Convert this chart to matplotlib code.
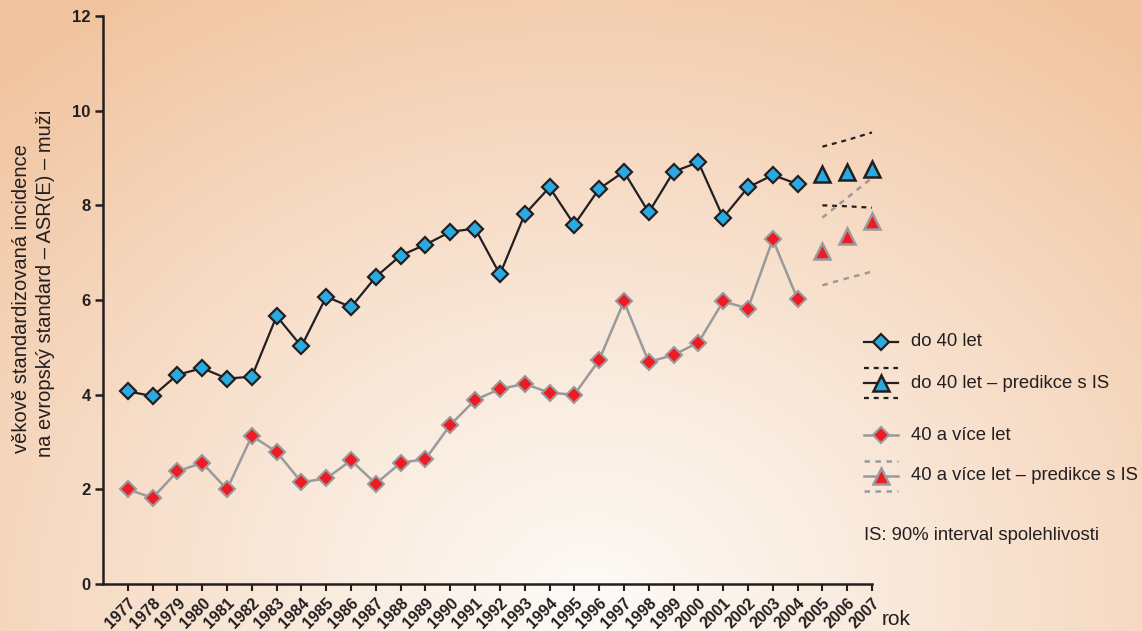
import numpy as np
import matplotlib
matplotlib.use("Agg")
from matplotlib import pyplot as plt

plt.rcParams['font.family'] = ['Liberation Sans', 'DejaVu Sans']

# data
years = list(range(1977, 2005))
do40 = [4.07, 3.97, 4.42, 4.56, 4.34, 4.38, 5.66, 5.02, 6.07, 5.85, 6.49, 6.94,
        7.17, 7.44, 7.51, 6.54, 7.81, 8.38, 7.59, 8.35, 8.71, 7.85, 8.71, 8.91,
        7.74, 8.38, 8.64, 8.45]
nad40 = [2.00, 1.82, 2.38, 2.56, 2.00, 3.13, 2.79, 2.15, 2.23, 2.61, 2.12, 2.56,
         2.64, 3.36, 3.89, 4.12, 4.23, 4.04, 4.00, 4.73, 5.97, 4.69, 4.84, 5.10,
         5.97, 5.82, 7.28, 6.02]

pred_years = [2005, 2006, 2007]
do40_pred = [8.67, 8.70, 8.77]
do40_hi = [9.24, 9.38, 9.54]
do40_lo = [8.00, 7.98, 7.95]
nad40_pred = [7.03, 7.36, 7.67]
nad40_hi = [7.74, 8.16, 8.58]
nad40_lo = [6.31, 6.46, 6.60]

tick_years = list(range(1977, 2008))
yticks = [0, 2, 4, 6, 8, 10, 12]

blue = '#29abe2'
red = '#ed1c24'
grey = '#9a9a9a'
dark = '#231f20'

W, H = 1142, 631
fig = plt.figure(figsize=(W / 100, H / 100), dpi=100)

# background radial gradient
bg = fig.add_axes([0, 0, 1, 1], zorder=-10)
yy, xx = np.mgrid[0:H, 0:W]
d = np.sqrt((xx - 590.0) ** 2 + ((yy - 600.0) * 1.2) ** 2) / 880.0
t = np.clip(d, 0, 1) ** 1.1
c0 = np.array([253, 250, 246]) / 255.0
c1 = np.array([241, 195, 158]) / 255.0
img = c0[None, None, :] * (1 - t[..., None]) + c1[None, None, :] * t[..., None]
bg.imshow(img, aspect='auto', extent=[0, W, H, 0])
bg.axis('off')

ax = fig.add_axes([103 / W, 1 - 584 / H, (872 - 103) / W, (584 - 16) / H])
ax.patch.set_alpha(0)
ax.set_xlim(1976, 2007)
ax.set_ylim(0, 12)

ax.plot(years, do40, color=dark, lw=1.6, marker='D', ms=8, mfc=blue, mec=dark,
        mew=1.6, zorder=5)
ax.plot(years, nad40, color=grey, lw=1.8, marker='D', ms=8, mfc=red, mec=grey,
        mew=1.5, zorder=4)

dash = (0, (2.2, 2.2))
ax.plot(pred_years, do40_hi, color=dark, lw=1.6, ls=dash, clip_on=False)
ax.plot(pred_years, do40_lo, color=dark, lw=1.6, ls=dash, clip_on=False)
ax.plot(pred_years, nad40_hi, color=grey, lw=1.8, ls=dash, clip_on=False)
ax.plot(pred_years, nad40_lo, color=grey, lw=1.8, ls=dash, clip_on=False)
ax.plot(pred_years, do40_pred, ls='none', marker='^', ms=12, mfc=blue, mec=dark,
        mew=1.8, zorder=5, clip_on=False)
ax.plot(pred_years, nad40_pred, ls='none', marker='^', ms=12, mfc=red, mec=grey,
        mew=1.8, zorder=4, clip_on=False)

for s in ['top', 'right']:
    ax.spines[s].set_visible(False)
for s in ['left', 'bottom']:
    ax.spines[s].set_linewidth(1.8)
    ax.spines[s].set_color(dark)

ax.set_yticks(yticks)
ax.set_yticklabels([str(v) for v in yticks], fontsize=12, fontweight='bold')
ax.set_xticks(tick_years)
ax.set_xticklabels([str(v) for v in tick_years], fontsize=11.5, fontweight='bold',
                   rotation=45, ha='right', rotation_mode='anchor')
ax.tick_params(axis='y', length=6, width=1.8, color=dark, labelcolor=dark, pad=3)
ax.tick_params(axis='x', length=5, width=1.5, color=dark, labelcolor=dark, pad=3)
ax.text(1.013, -0.062, 'rok', transform=ax.transAxes, fontsize=15, color=dark,
        va='center', ha='left')

# overlay in pixel coordinates for axis title and legend
ov = fig.add_axes([0, 0, 1, 1], zorder=10)
ov.patch.set_alpha(0)
ov.set_xlim(0, W)
ov.set_ylim(H, 0)
ov.axis('off')

ov.text(22, 299, 'věkově standardizovaná incidence', rotation=90, fontsize=14.5,
        color=dark, ha='center', va='center')
ov.text(46, 283, 'na evropský standard – ASR(E) – muži', rotation=90, fontsize=14.5,
        color=dark, ha='center', va='center')

fs = 13.3
lx0, lx1, lxm, tx = 864, 898, 881, 911
ov.plot([lx0, lx1], [342, 342], color=dark, lw=1.6)
ov.plot([lxm], [342], marker='D', ms=8.5, mfc=blue, mec=dark, mew=1.6)
ov.text(tx, 342, 'do 40 let', fontsize=fs, color=dark, va='center')

ov.plot([lx0, lx1], [368, 368], color=dark, lw=1.6, ls=dash)
ov.plot([lx0, lx1], [383, 383], color=dark, lw=1.6)
ov.plot([lxm], [383], marker='^', ms=12, mfc=blue, mec=dark, mew=1.8)
ov.plot([lx0, lx1], [398, 398], color=dark, lw=1.6, ls=dash)
ov.text(tx, 383, 'do 40 let – predikce s IS', fontsize=fs, color=dark, va='center')

ov.plot([lx0, lx1], [435, 435], color=grey, lw=1.8)
ov.plot([lxm], [435], marker='D', ms=8, mfc=red, mec=grey, mew=1.5)
ov.text(tx, 435, '40 a více let', fontsize=fs, color=dark, va='center')

ov.plot([lx0, lx1], [461, 461], color=grey, lw=1.8, ls=dash)
ov.plot([lx0, lx1], [476, 476], color=grey, lw=1.8)
ov.plot([lxm], [476], marker='^', ms=12, mfc=red, mec=grey, mew=1.8)
ov.plot([lx0, lx1], [491, 491], color=grey, lw=1.8, ls=dash)
ov.text(tx, 476, '40 a více let – predikce s IS', fontsize=fs, color=dark,
        va='center')

ov.text(864, 535, 'IS: 90% interval spolehlivosti', fontsize=fs, color=dark,
        va='center')

fig.savefig('out.png', dpi=100)
